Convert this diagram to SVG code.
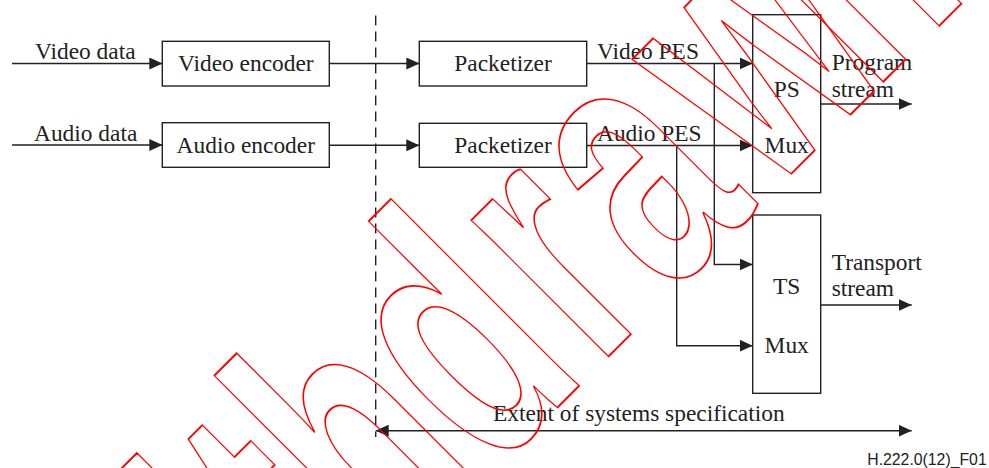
<svg xmlns="http://www.w3.org/2000/svg" width="989" height="468" viewBox="0 0 989 468">
<style>
.box{fill:#fff;stroke:#222;stroke-width:1.4}
.ln{fill:none;stroke:#222;stroke-width:1.4}
.t{font-family:"Liberation Serif","Times New Roman",serif;font-size:23.4px;fill:#222}
.c{text-anchor:middle}
.wm{font-family:"Liberation Sans",Arial,sans-serif;font-weight:bold;font-size:366px;fill:none;stroke:#ff0000;stroke-width:1.6}
</style>
<defs>
<marker id="ah" viewBox="0 0 13 12" refX="13" refY="6" markerWidth="13" markerHeight="12" markerUnits="userSpaceOnUse" orient="auto-start-reverse">
<path d="M0,0 L13,6 L0,12 z" fill="#222"/>
</marker>
</defs>
<rect width="989" height="468" fill="#fff"/>
<g id="connectors">
<path class="ln" d="M12,63.5 H162.3" marker-end="url(#ah)"/>
<path class="ln" d="M12,145 H162.3" marker-end="url(#ah)"/>
<path class="ln" d="M329.3,63.5 H419.3" marker-end="url(#ah)"/>
<path class="ln" d="M329.3,145.3 H419.3" marker-end="url(#ah)"/>
<path class="ln" d="M586.7,63.5 H752.7" marker-end="url(#ah)"/>
<path class="ln" d="M586.7,145.5 H752.7" marker-end="url(#ah)"/>
<path class="ln" d="M714.3,63.5 V264.5 H752.7" marker-end="url(#ah)"/>
<path class="ln" d="M676.7,145.5 V345.7 H752.7" marker-end="url(#ah)"/>
<path class="ln" d="M820.7,104 H911.7" marker-end="url(#ah)"/>
<path class="ln" d="M820.7,305 H911.7" marker-end="url(#ah)"/>
<path class="ln" d="M375.7,430.7 H911.7" marker-start="url(#ah)" marker-end="url(#ah)"/>
<path class="ln" d="M375.7,15.5 V437" stroke-dasharray="10,6"/>
</g>
<g id="labels">
<text class="t" x="35" y="59">Video data</text>
<text class="t" x="34" y="141">Audio data</text>
<text class="t" x="597" y="59.3">Video PES</text>
<text class="t" x="597" y="140.7">Audio PES</text>
<text class="t" x="831.7" y="70">Program</text>
<text class="t" x="831.7" y="96.7">stream</text>
<text class="t" x="831.7" y="270">Transport</text>
<text class="t" x="831.7" y="296">stream</text>
<text class="t c" x="638.8" y="420.7">Extent of systems specification</text>
<text x="986.7" y="465" text-anchor="end" font-family="Liberation Sans,Arial,sans-serif" font-size="15.8" fill="#222">H.222.0(12)_F01</text>
</g>
<g id="video-encoder"><rect class="box" x="162.3" y="41.3" width="167" height="44.7"/><text class="t c" x="245.8" y="71">Video encoder</text></g>
<g id="audio-encoder"><rect class="box" x="162.3" y="122.7" width="167" height="44.6"/><text class="t c" x="245.8" y="152.7">Audio encoder</text></g>
<g id="packetizer-video"><rect class="box" x="419.3" y="41.3" width="167.4" height="44.7"/><text class="t c" x="503" y="71">Packetizer</text></g>
<g id="packetizer-audio"><rect class="box" x="419.3" y="123.3" width="167.4" height="44"/><text class="t c" x="503" y="153">Packetizer</text></g>
<g id="ps-mux"><rect class="box" x="752.7" y="14.7" width="68" height="178"/><text class="t c" x="786.7" y="97.3">PS</text><text class="t c" x="786.7" y="152.7">Mux</text></g>
<g id="ts-mux"><rect class="box" x="752.7" y="215" width="68" height="178.3"/><text class="t c" x="786.7" y="294">TS</text><text class="t c" x="786.7" y="353.3">Mux</text></g>
<g id="watermark" transform="translate(138,827) rotate(-45) scale(0.631,1)">
<text class="wm" x="0" y="0" dx="0 0 0 0 0 16 16 24 -55" vector-effect="non-scaling-stroke">Withdrawn</text>
</g>
</svg>
